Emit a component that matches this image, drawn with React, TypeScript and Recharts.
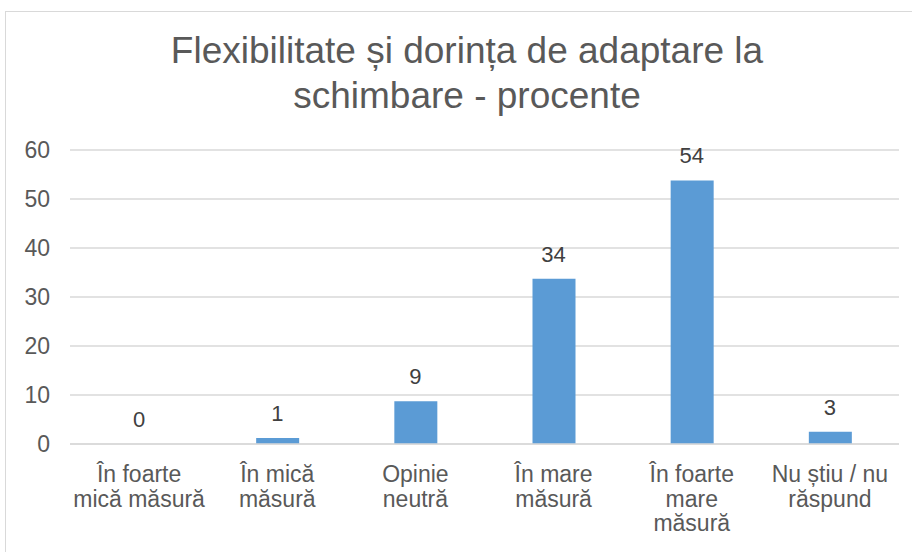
import React from 'react';
import { ComposedChart, Bar, Line, XAxis, YAxis, CartesianGrid, LabelList } from 'recharts';

const categories = [
  'În foarte\nmică măsură',
  'În mică\nmăsură',
  'Opinie\nneutră',
  'În mare\nmăsură',
  'În foarte\nmare\nmăsură',
  'Nu știu / nu\nrăspund',
];
const values = [0, 1.2, 8.7, 33.7, 53.8, 2.5];
const yTicks = [0, 10, 20, 30, 40, 50, 60];
const titleLines = ['Flexibilitate și dorința de adaptare la', 'schimbare - procente'];

const data = categories.map((c, i) => ({ name: c, value: values[i] }));

const FONT = '"Liberation Sans", Arial, sans-serif';

const XTick = (props: any) => {
  const { x, y, payload } = props;
  const lines = String(payload.value).split('\n');
  return (
    <text x={x} y={y} textAnchor="middle" fill="#595959" fontSize={23} fontFamily={FONT}>
      {lines.map((l: string, i: number) => (
        <tspan key={i} x={x} dy={i === 0 ? 38 : 24.5}>
          {l}
        </tspan>
      ))}
    </text>
  );
};

const ValueLabel = (props: any) => {
  const { x, y, value } = props;
  return (
    <text
      x={Number(x)}
      y={Number(y) - 17}
      textAnchor="middle"
      fill="#404040"
      fontSize={22}
      fontFamily={FONT}
    >
      {String(Math.round(Number(value)))}
    </text>
  );
};

export default function App() {
  return (
    <div style={{ position: 'absolute', left: 0, top: 0, width: 912, height: 552, overflow: 'hidden', background: '#fff' }}>
      <div
        style={{
          position: 'absolute',
          left: 5,
          top: 11,
          width: 1000,
          height: 1000,
          border: '1.5px solid #d9d9d9',
        }}
      />
      <div
        style={{
          position: 'absolute',
          left: 0,
          top: 27.5,
          width: 934,
          textAlign: 'center',
          fontFamily: FONT,
          fontSize: 37,
          lineHeight: '45px',
          color: '#595959',
        }}
      >
        {titleLines.map((t, i) => (
          <div key={i}>{t}</div>
        ))}
      </div>
      <div style={{ position: 'absolute', left: 0, top: 0 }}>
        <ComposedChart
          width={912}
          height={552}
          data={data}
          margin={{ top: 150, right: 13, bottom: 8, left: 10 }}
        >
          <CartesianGrid vertical={false} stroke="#d9d9d9" strokeWidth={1.4} />
          <XAxis
            dataKey="name"
            height={100}
            interval={0}
            tickLine={false}
            axisLine={{ stroke: '#d9d9d9', strokeWidth: 1.4 }}
            tick={<XTick />}
            tickSize={0}
            tickMargin={0}
          />
          <YAxis
            domain={[0, 60]}
            ticks={yTicks}
            width={60}
            axisLine={false}
            tickLine={false}
            tickSize={8}
            tickMargin={12}
            tick={{ fill: '#595959', fontSize: 23, fontFamily: FONT }}
          />
          <Bar dataKey="value" fill="#5b9bd5" barSize={43} isAnimationActive={false} />
          <Line
            dataKey="value"
            stroke="none"
            dot={false}
            activeDot={false}
            legendType="none"
            isAnimationActive={false}
          >
            <LabelList dataKey="value" content={<ValueLabel />} />
          </Line>
        </ComposedChart>
      </div>
    </div>
  );
}
